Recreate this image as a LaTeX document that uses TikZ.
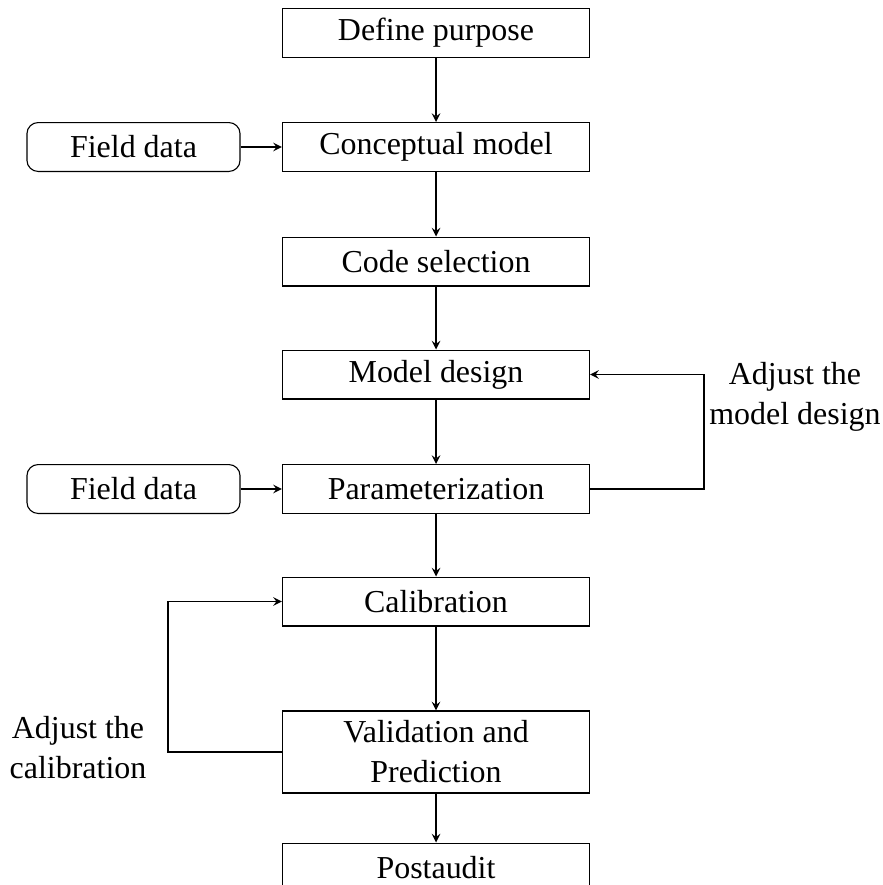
\documentclass[tikz,border=0pt]{standalone}
\usepackage{fontspec}
\setmainfont{Liberation Serif}
\begin{document}
\begin{tikzpicture}[x=0.36pt, y=-0.36pt, >=stealth, font=\fontsize{11.5}{14.4}\selectfont,
  stepbox/.style={draw, minimum width=110.5pt, minimum height=17.6pt, inner sep=0pt, align=center},
  databox/.style={draw, rounded corners=4pt, minimum width=76.7pt, minimum height=17.6pt, inner sep=0pt}]
  \useasboundingbox (0,0) rectangle (883,885);
  % main column
  \node[stepbox] (purpose) at (436,33) {Define purpose};
  \node[stepbox] (concept) at (436,147) {Conceptual model};
  \node[stepbox] (code) at (436,261.5) {Code selection};
  \node[stepbox] (design) at (436,374.5) {Model design};
  \node[stepbox] (param) at (436,489) {Parameterization};
  \node[stepbox] (calib) at (436,601.5) {Calibration};
  \node[stepbox, minimum height=29.5pt] (valid) at (436,752) {Validation and\\Prediction};
  \node[stepbox] (audit) at (436,867.5) {Postaudit};
  % field data
  \node[databox] (field1) at (133.5,147) {Field data};
  \node[databox] (field2) at (133.5,489) {Field data};
  % connectors
  \draw[->] (purpose) -- (concept);
  \draw[->] (concept) -- (code);
  \draw[->] (code) -- (design);
  \draw[->] (design) -- (param);
  \draw[->] (param) -- (calib);
  \draw[->] (calib) -- (valid);
  \draw[->] (valid) -- (audit);
  \draw[->] (field1) -- (concept);
  \draw[->] (field2) -- (param);
  % feedback loops
  \coordinate (rturn) at (704,489);
  \coordinate (lturn) at (168,752);
  \draw[->] (param.east) -- (rturn) |- (design.east);
  \draw[->] (valid.west) -- (lturn) |- (calib.west);
  \node[align=center] (adjdesign) at (795,397) {Adjust the\\model design};
  \node[align=center] (adjcalib) at (78,748) {Adjust the\\calibration};
\end{tikzpicture}
\end{document}
